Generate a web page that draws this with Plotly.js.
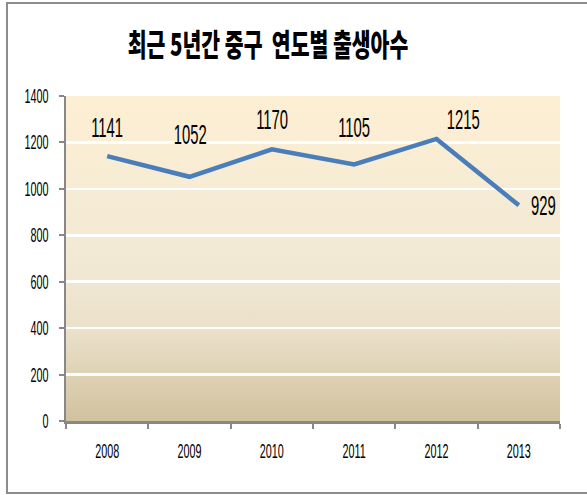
<!DOCTYPE html>
<html>
<head>
<meta charset="utf-8">
<script src="https://cdn.plot.ly/plotly-3.0.1.min.js"></script>
<style>html,body{margin:0;padding:0;background:#fff}#chart{width:587px;height:495px}</style>
</head>
<body>
<div id="chart"></div>
<script>
var years = ['2008', '2009', '2010', '2011', '2012', '2013'];
var births = [1141, 1052, 1170, 1105, 1215, 929];
var yTicks = [0, 200, 400, 600, 800, 1000, 1200, 1400];
var titleText = '최근 5년간 중구  연도별 출생아수';

// label placement (style, not data)
var labelShiftX = [0, 0, 0, 0, 26, 25];
var labelShiftY = [29, 42, 30, 37, 19, 0];

var gradSvg = '<svg xmlns="http://www.w3.org/2000/svg" width="10" height="100" preserveAspectRatio="none">' +
  '<defs><linearGradient id="g" x1="0" y1="0" x2="0" y2="1">' +
  '<stop offset="0" stop-color="#fdefd3"/>' +
  '<stop offset="0.5" stop-color="#f2e9d5"/>' +
  '<stop offset="0.72" stop-color="#ebe1ca"/>' +
  '<stop offset="1" stop-color="#d1c29e"/>' +
  '</linearGradient></defs><rect width="10" height="100" fill="url(#g)"/></svg>';

var numFont = 'Liberation Sans, Arial, sans-serif';

var annotations = years.map(function (yr, i) {
  return {
    x: i, y: births[i], xref: 'x', yref: 'y',
    text: String(births[i]), showarrow: false,
    xanchor: 'center', yanchor: 'middle',
    xshift: labelShiftX[i], yshift: labelShiftY[i],
    font: {family: numFont, size: 28, color: '#000'}
  };
});

var trace = {
  x: years, y: births, type: 'scatter', mode: 'lines',
  line: {color: '#4a7ebb', width: 4.5},
  hoverinfo: 'skip'
};

var layout = {
  width: 587, height: 495,
  margin: {l: 66, r: 27, t: 96, b: 74},
  paper_bgcolor: '#ffffff',
  plot_bgcolor: '#f5ecd9',
  showlegend: false,
  title: {
    text: titleText,
    x: 268 / 587, xref: 'container', xanchor: 'center',
    y: 1 - 45 / 495, yref: 'container', yanchor: 'middle',
    font: {family: 'Noto Sans CJK KR, sans-serif', size: 31, color: '#000', weight: 900}
  },
  xaxis: {
    type: 'category',
    categoryorder: 'array', categoryarray: years,
    range: [-0.5, years.length - 0.5],
    autorange: false,
    tickson: 'boundaries',
    ticks: 'outside', ticklen: 5, tickwidth: 2, tickcolor: '#888888',
    showline: true, linecolor: '#888888', linewidth: 2.5,
    showgrid: false, zeroline: false,
    tickangle: 0,
    tickfont: {family: numFont, size: 20, color: '#000'},
    ticklabelstandoff: 11,
    fixedrange: true
  },
  yaxis: {
    range: [0, 1400],
    autorange: false,
    tickvals: yTicks,
    ticktext: yTicks.map(String),
    ticks: 'outside', ticklen: 5, tickwidth: 2, tickcolor: '#888888',
    showline: true, linecolor: '#888888', linewidth: 2.5,
    showgrid: true, gridcolor: '#ffffff', gridwidth: 2.5,
    zeroline: false,
    tickfont: {family: numFont, size: 20, color: '#000'},
    ticklabelstandoff: 6,
    fixedrange: true
  },
  images: [{
    source: 'data:image/svg+xml;charset=utf-8,' + encodeURIComponent(gradSvg),
    xref: 'paper', yref: 'paper', x: 0, y: 1, sizex: 1, sizey: 1,
    xanchor: 'left', yanchor: 'top', sizing: 'stretch', layer: 'below'
  }],
  shapes: [{
    type: 'rect', xref: 'paper', yref: 'paper',
    x0: (7 - 66) / 494, x1: (600 - 66) / 494,
    y0: (421 - 493) / 325, y1: (421 - 3) / 325,
    line: {color: '#8c8c8c', width: 2}, fillcolor: 'rgba(0,0,0,0)', layer: 'below'
  }],
  annotations: annotations
};

// horizontally condense text (the reference uses a condensed face)
function condense(selector, s, anchor) {
  document.querySelectorAll(selector).forEach(function (t) {
    var b = t.getBBox();
    var cx = anchor === 'right' ? b.x + b.width : b.x + b.width / 2;
    var tr = t.getAttribute('transform') || '';
    t.setAttribute('transform', tr + ' translate(' + cx + ',0) scale(' + s + ',1) translate(' + (-cx) + ',0)');
  });
}

Plotly.newPlot('chart', [trace], layout, {displayModeBar: false, staticPlot: true}).then(function () {
  condense('#chart .annotation-text', 0.53, 'center');
  condense('#chart .gtitle', 0.66, 'center');
  condense('#chart .xtick text', 0.54, 'center');
  condense('#chart .ytick text', 0.54, 'right');
});
</script>
</body>
</html>
